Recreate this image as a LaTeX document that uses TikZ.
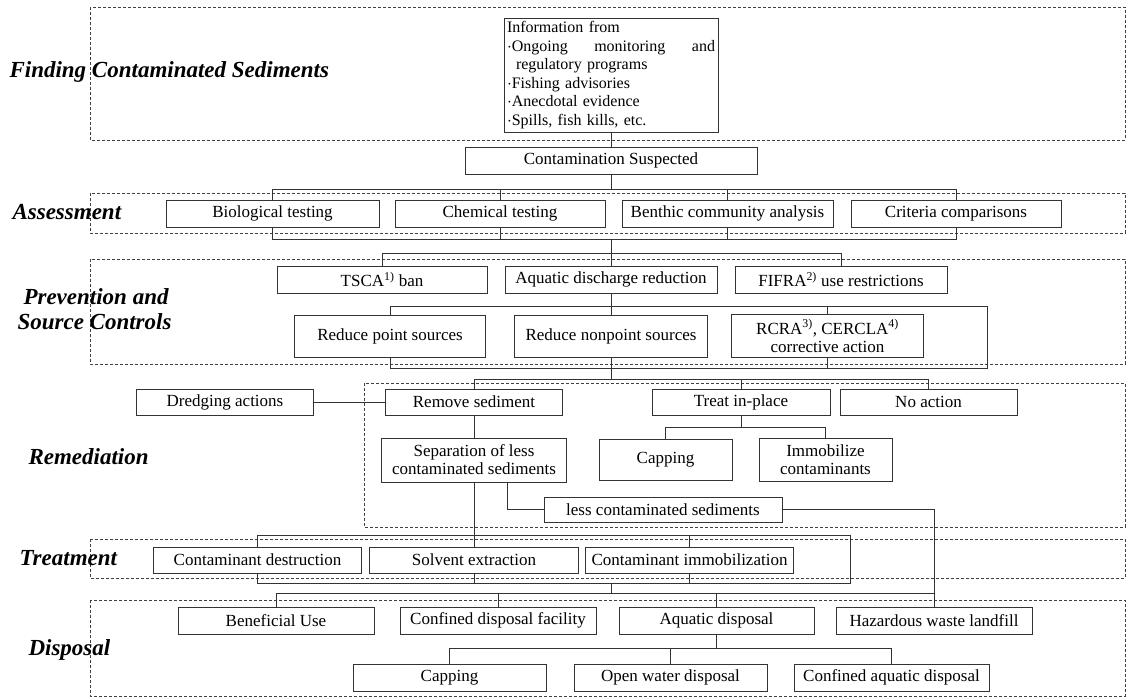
\documentclass[tikz,border=0pt]{standalone}
\usepackage{fontspec}
\setmainfont{Liberation Serif}
\usepackage{tikz}
\usetikzlibrary{positioning}

\tikzset{
  box/.style={draw=black!80, line width=1pt, rectangle, inner sep=2pt, align=center,
    fill=white, font=\fontsize{17}{18}\selectfont},
  zone/.style={draw=black!75, line width=0.9pt, dash pattern=on 3pt off 2pt},
  phase/.style={anchor=west, align=left, font=\fontsize{23}{25}\selectfont\bfseries\itshape},
  link/.style={draw=black!80, line width=1pt},
}

\begin{document}
\begin{tikzpicture}[x=1pt, y=-1pt]
        \useasboundingbox (0,0) rectangle (1128,697);

        % ZONES
        % -----------------
        \draw[zone] (90,7) rectangle (1125,140);
        \draw[zone] (90,193) rectangle (1125,233);
        \draw[zone] (90,259) rectangle (1125,364);
        \draw[zone] (364,383) rectangle (1125,527);
        \draw[zone] (90,539) rectangle (1125,578);
        \draw[zone] (90,600) rectangle (1125,696);

        \node[phase] (lab_find) at (6,72) {Finding Contaminated Sediments};
        \node[phase] (lab_assess) at (9,212) {Assessment};
        \node[phase] (lab_prev) at (14,309.5) {\hspace*{6pt}Prevention and\\Source Controls};
        \node[phase] (lab_remed) at (25,457) {Remediation};
        \node[phase] (lab_treat) at (16,558) {Treatment};
        \node[phase] (lab_disp) at (25,650) {Disposal};

        % NODES
        % -----------------
        \node[box, align=left, text width=208pt, minimum height=114, inner sep=3pt,
              font=\fontsize{16}{18.5}\selectfont] (info) at (611,75)
              {Information from\\
               \makebox[208pt][l]{$\cdot$Ongoing\hfill monitoring\hfill and}\\
               \hspace*{9pt}regulatory programs\\
               $\cdot$Fishing advisories\\
               $\cdot$Anecdotal evidence\\
               $\cdot$Spills, fish kills, etc.};
        \node[box, minimum width=292, minimum height=27] (suspect) at (611,160.5) {Contamination Suspected};

        \node[box, minimum width=213, minimum height=27] (bio_test) at (272.5,213.5) {Biological testing};
        \node[box, minimum width=210, minimum height=27, right=15pt of bio_test] (chem_test) {Chemical testing};
        \node[box, minimum width=211, minimum height=27, right=16pt of chem_test] (benthic) {Benthic community analysis};
        \node[box, minimum width=210, minimum height=27, right=17pt of benthic] (criteria) {Criteria comparisons};

        \node[box, minimum width=212, minimum height=27] (aq_dis) at (611,279.5) {Aquatic discharge reduction};
        \node[box, minimum width=210, minimum height=27, left=17pt of aq_dis] (tsca) {TSCA\textsuperscript{1)} ban};
        \node[box, minimum width=212, minimum height=27, right=17pt of aq_dis] (fifra) {FIFRA\textsuperscript{2)} use restrictions};

        \node[box, minimum width=193, minimum height=42] (red_nonpoint) at (611,336) {Reduce nonpoint sources};
        \node[box, minimum width=191, minimum height=42, left=28pt of red_nonpoint] (red_point) {Reduce point sources};
        \node[box, minimum width=192, minimum height=43, right=23pt of red_nonpoint] (rcra)
              {RCRA\textsuperscript{3)}, CERCLA\textsuperscript{4)}\\corrective action};

        \node[box, minimum width=177, minimum height=26] (remove) at (474,402) {Remove sediment};
        \node[box, minimum width=177, minimum height=26, left=71pt of remove] (dredge) {Dredging actions};
        \node[box, minimum width=178, minimum height=26] (treat_ip) at (741,402) {Treat in-place};
        \node[box, minimum width=177, minimum height=26, right=9pt of treat_ip] (no_action) {No action};

        \node[box, minimum width=185, minimum height=44, below=22pt of remove] (separate)
              {Separation of less\\contaminated sediments};
        \node[box, minimum width=133, minimum height=41] (cap_ip) at (665.5,459.5) {Capping};
        \node[box, minimum width=133, minimum height=43, right=26pt of cap_ip] (immob) {Immobilize\\contaminants};
        \node[box, minimum width=238, minimum height=25] (less_cont) at (663,509.5) {less contaminated sediments};

        \node[box, minimum width=209, minimum height=26] (solvent) at (474,560) {Solvent extraction};
        \node[box, minimum width=208, minimum height=26, left=7pt of solvent] (destruct) {Contaminant destruction};
        \node[box, minimum width=208, minimum height=26, right=6pt of solvent] (immob_tr) {Contaminant immobilization};

        \node[box, minimum width=196, minimum height=27] (benef) at (276,620.5) {Beneficial Use};
        \node[box, minimum width=196, minimum height=27, right=25pt of benef] (cdf) {Confined disposal facility};
        \node[box, minimum width=195, minimum height=27, right=22pt of cdf] (aq_disp) {Aquatic disposal};
        \node[box, minimum width=196, minimum height=27, right=21pt of aq_disp] (haz) {Hazardous waste landfill};

        \node[box, minimum width=193, minimum height=27] (cap_aq) at (449.5,677.5) {Capping};
        \node[box, minimum width=193, minimum height=27, right=27pt of cap_aq] (open_water) {Open water disposal};
        \node[box, minimum width=195, minimum height=27, right=26pt of open_water] (conf_aq) {Confined aquatic disposal};

        % branch levels
        \coordinate (as_top) at (0,189);
        \coordinate (as_bot) at (0,239);
        \coordinate (pr_top) at (0,253);
        \coordinate (pr_mid) at (0,306);
        \coordinate (pr_bot) at (0,368);
        \coordinate (pr_right) at (987,0);
        \coordinate (rem_top) at (0,379);
        \coordinate (tip_br) at (0,427);
        \coordinate (sep_out) at (507,0);
        \coordinate (tr_top) at (0,535);
        \coordinate (tr_bot) at (0,583);
        \coordinate (tr_right) at (850,0);
        \coordinate (tr_out) at (611,583);
        \coordinate (dp_top) at (0,593);
        \coordinate (dp_sub) at (0,648);

        % EDGES
        % -----------------
        \draw[link] (info) -- (suspect);
        \draw[link] (suspect) -- (suspect |- as_top);
        \draw[link] (bio_test) |- (criteria |- as_top) -- (criteria);
        \draw[link] (chem_test) -- (chem_test |- as_top);
        \draw[link] (benthic) -- (benthic |- as_top);
        \draw[link] (bio_test) |- (criteria |- as_bot) -- (criteria);
        \draw[link] (chem_test) -- (chem_test |- as_bot);
        \draw[link] (benthic) -- (benthic |- as_bot);
        \draw[link] (suspect |- as_bot) -- (aq_dis);

        \draw[link] (tsca) |- (fifra |- pr_top) -- (fifra);
        \draw[link] (aq_dis) -- (red_nonpoint);
        \draw[link] (red_point) |- (pr_right |- pr_mid) -- (pr_right |- pr_bot) -| (red_point);
        \draw[link] (rcra) -- (rcra |- pr_mid);
        \draw[link] (rcra) -- (rcra |- pr_bot);
        \draw[link] (red_nonpoint) -- (red_nonpoint |- rem_top);

        \draw[link] (remove) |- (no_action |- rem_top) -- (no_action);
        \draw[link] (treat_ip) -- (treat_ip |- rem_top);
        \draw[link] (dredge) -- (remove);
        \draw[link] (remove) -- (separate);
        \draw[link] (treat_ip) -- (treat_ip |- tip_br);
        \draw[link] (cap_ip) |- (immob |- tip_br) -- (immob);
        \draw[link] (separate.south -| sep_out) |- (less_cont);
        \draw[link] (less_cont) -| (haz);
        \draw[link] (separate) -- (solvent);

        \draw[link] (destruct) |- (tr_right |- tr_top) -- (tr_right |- tr_bot) -| (destruct);
        \draw[link] (immob_tr) -- (immob_tr |- tr_top);
        \draw[link] (immob_tr) -- (immob_tr |- tr_bot);
        \draw[link] (solvent) -- (solvent |- tr_bot);
        \draw[link] (tr_out) -- (tr_out |- dp_top);

        \draw[link] (benef) |- (haz |- dp_top);
        \draw[link] (cdf) -- (cdf |- dp_top);
        \draw[link] (aq_disp) -- (aq_disp |- dp_top);
        \draw[link] (aq_disp) -- (aq_disp |- dp_sub);
        \draw[link] (cap_aq) |- (conf_aq |- dp_sub) -- (conf_aq);
        \draw[link] (open_water) -- (open_water |- dp_sub);
\end{tikzpicture}
\end{document}
